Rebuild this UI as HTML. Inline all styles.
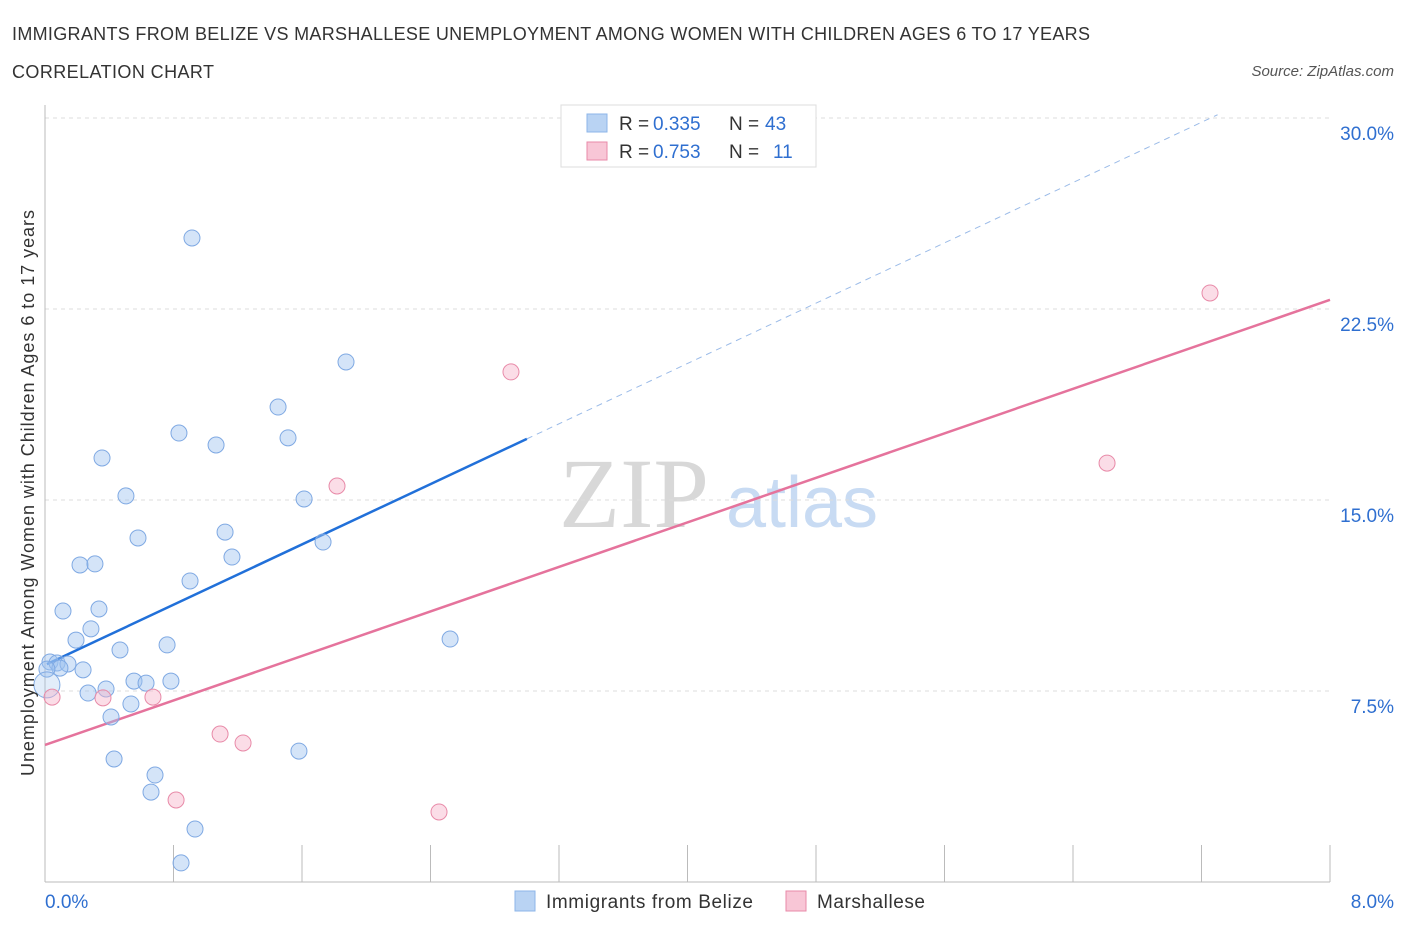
<!DOCTYPE html>
<html><head><meta charset="utf-8"><style>
body{margin:0;background:#fff;font-family:"Liberation Sans",sans-serif;}
</style></head><body>
<svg id="chart" width="1406" height="930" xmlns="http://www.w3.org/2000/svg" font-family="Liberation Sans, sans-serif">
<text x="12" y="40" font-size="18" fill="#333" textLength="1078">IMMIGRANTS FROM BELIZE VS MARSHALLESE UNEMPLOYMENT AMONG WOMEN WITH CHILDREN AGES 6 TO 17 YEARS</text>
<text x="12" y="78" font-size="18" fill="#333" textLength="202">CORRELATION CHART</text>
<text x="1394" y="76" font-size="15" fill="#555" font-style="italic" text-anchor="end">Source: ZipAtlas.com</text>
<text x="634" y="527" font-size="100" fill="#d8d8d8" style="font-family:'Liberation Serif',serif" text-anchor="middle">ZIP</text>
<text x="802" y="527" font-size="72" fill="#c8dbf3" text-anchor="middle">atlas</text>
<g id="grid"></g>
<g id="axes"></g>
<g id="lines"></g>
<g id="points"></g>
<text transform="translate(34,493) rotate(-90)" font-size="18" fill="#333" text-anchor="middle" textLength="566">Unemployment Among Women with Children Ages 6 to 17 years</text>
<g>
<rect x="561" y="105" width="255" height="62" fill="#fff" stroke="#ddd"/>
<rect x="587" y="114" width="20" height="18" fill="#b9d3f3" stroke="#8db6e8"/>
<rect x="587" y="142" width="20" height="18" fill="#f8c6d6" stroke="#e88aa8"/>
<text x="619" y="130" font-size="19" fill="#333">R =</text>
<text x="653" y="130" font-size="19" fill="#2f6fd0">0.335</text>
<text x="729" y="130" font-size="19" fill="#333">N =</text>
<text x="765" y="130" font-size="19" fill="#2f6fd0">43</text>
<text x="619" y="158" font-size="19" fill="#333">R =</text>
<text x="653" y="158" font-size="19" fill="#2f6fd0">0.753</text>
<text x="729" y="158" font-size="19" fill="#333">N =</text>
<text x="773" y="158" font-size="19" fill="#2f6fd0">11</text>
</g>
<g>
<rect x="515" y="891" width="20" height="20" fill="#b9d3f3" stroke="#8db6e8"/>
<text x="546" y="908" font-size="19" fill="#333" textLength="207">Immigrants from Belize</text>
<rect x="786" y="891" width="20" height="20" fill="#f8c6d6" stroke="#e88aa8"/>
<text x="817" y="908" font-size="19" fill="#333" textLength="108">Marshallese</text>
</g>
</svg>
<script>
const blueX=[0.915,1.874,1.451,0.834,1.065,1.513,0.355,0.504,1.613,0.579,1.121,1.731,1.164,0.218,0.311,0.903,0.112,0.336,0.286,0.193,0.760,0.467,2.522,0.031,0.075,0.143,0.237,0.093,0.012,0.268,0.554,0.629,0.784,0.380,0.535,0.411,0.430,0.685,1.581,0.660,0.934,0.847,0.012];
const blueY=[25.29,20.42,18.65,17.63,17.16,17.44,16.65,15.16,15.04,13.51,13.74,13.35,12.76,12.45,12.49,11.82,10.64,10.72,9.94,9.50,9.31,9.11,9.54,8.64,8.60,8.56,8.33,8.40,8.36,7.42,7.89,7.81,7.89,7.58,6.99,6.48,4.83,4.20,5.14,3.53,2.08,0.75,7.74];
const pinkX=[7.253,2.901,1.818,6.612,0.044,0.361,0.672,1.090,1.233,0.816,2.453];
const pinkY=[23.13,20.03,15.55,16.45,7.26,7.23,7.26,5.81,5.46,3.22,2.75];
const blueFit=[8.52,2.96];
const pinkFit=[5.38,2.185];
const yTicks=[7.5,15,22.5,30];
const yTickLabels=["7.5%","15.0%","22.5%","30.0%"];
const xTicks=[0,0.8,1.6,2.4,3.2,4,4.8,5.6,6.4,7.2,8];

const X0=45,X1=1330,Y0=882,PPU=191/7.5;
const sx=v=>X0+(v/8)*(X1-X0);
const sy=v=>Y0-v*PPU;
const NS="http://www.w3.org/2000/svg";
function mk(tag,attrs,parent){const e=document.createElementNS(NS,tag);for(const k in attrs)e.setAttribute(k,attrs[k]);parent.appendChild(e);return e;}
const grid=document.getElementById('grid'),axes=document.getElementById('axes'),lines=document.getElementById('lines'),pts=document.getElementById('points');
yTicks.forEach((t,i)=>{
  const l=mk('line',{x1:X0,x2:X1,y1:sy(t),y2:sy(t),stroke:'#ddd','stroke-dasharray':'4,4'},grid);
  
  
  const tx=mk('text',{x:1394,y:sy(t)+22,'font-size':19,fill:'#2f6fd0','text-anchor':'end'},axes);
  tx.textContent=yTickLabels[i];
  
  
});
const ax=mk('line',{x1:X0,x2:X1,y1:Y0,y2:Y0,stroke:'#bbb'},axes);


const ay=mk('line',{x1:X0,x2:X0,y1:105,y2:Y0,stroke:'#bbb'},axes);


xTicks.forEach(t=>{
  const l=mk('line',{x1:sx(t),x2:sx(t),y1:Y0,y2:Y0-37,stroke:'#bbb'},axes);
  
  
});
const xl0=mk('text',{x:45,y:908,'font-size':19,fill:'#2f6fd0'},axes);xl0.textContent='0.0%';


const xl1=mk('text',{x:1394,y:908,'font-size':19,fill:'#2f6fd0','text-anchor':'end'},axes);xl1.textContent='8.0%';



const bxs=0.012,bxe=3.0,bxd=7.3;
const bl=mk('line',{x1:sx(bxs),y1:sy(blueFit[0]+blueFit[1]*bxs),x2:sx(bxe),y2:sy(blueFit[0]+blueFit[1]*bxe),stroke:'#2170d9','stroke-width':2.5},lines);


const bd=mk('line',{x1:sx(bxe),y1:sy(blueFit[0]+blueFit[1]*bxe),x2:sx(bxd),y2:sy(blueFit[0]+blueFit[1]*bxd),stroke:'#9bbbe8','stroke-width':1,'stroke-dasharray':'6,5'},lines);


const pl=mk('line',{x1:sx(0),y1:sy(pinkFit[0]),x2:sx(8),y2:sy(pinkFit[0]+pinkFit[1]*8),stroke:'#e5739c','stroke-width':2.5},lines);



blueX.forEach((x,i)=>{
  const big=(i===blueX.length-1);
  const c=mk('circle',{cx:sx(x),cy:sy(blueY[i]),r:big?13:8,fill:big?'rgba(160,195,240,0.3)':'rgba(160,195,240,0.45)',stroke:'#7fa9e3','stroke-width':1},pts);
  
  
});
pinkX.forEach((x,i)=>{
  const c=mk('circle',{cx:sx(x),cy:sy(pinkY[i]),r:8,fill:'rgba(246,180,202,0.45)',stroke:'#e88aa8','stroke-width':1},pts);
  
  
});
</script>
</body></html>
